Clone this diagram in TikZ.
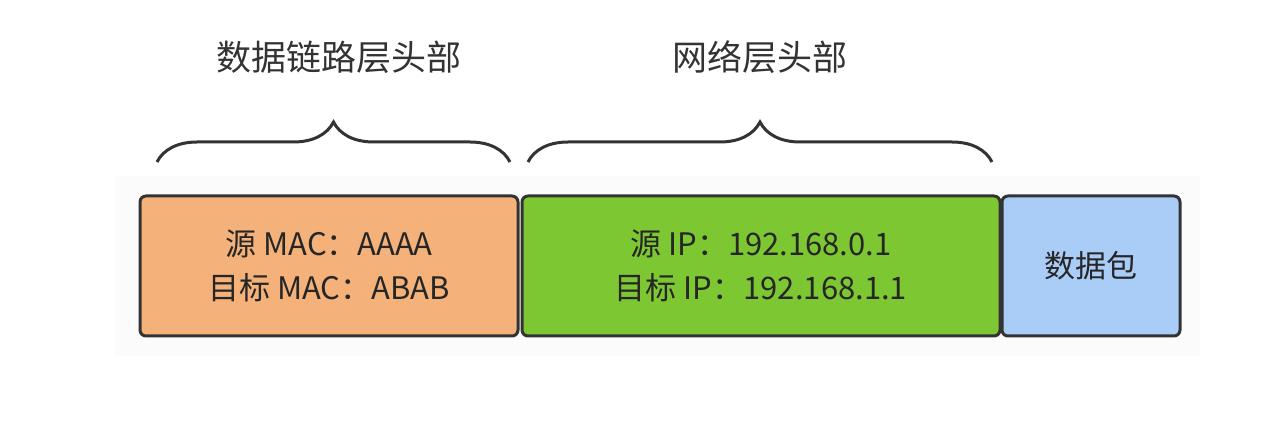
\documentclass[tikz,border=0pt]{standalone}
\usepackage{fontspec}
\setmainfont{Noto Sans CJK SC}
\usetikzlibrary{decorations.pathreplacing}
\definecolor{orangef}{HTML}{F4B27A}
\definecolor{greenf}{HTML}{7DC832}
\definecolor{bluef}{HTML}{A9CDF7}
\definecolor{edge}{HTML}{333333}
\tikzset{
  field/.style={draw=edge, line width=3pt, rounded corners=6pt, minimum height=140pt, inner sep=0pt, align=center, font=\fontsize{31}{44}\selectfont, text=black!85},
  brc/.style={decorate, decoration={brace, amplitude=40pt, aspect=0.5}, line width=3pt, draw=edge},
  lbl/.style={font=\fontsize{35}{40}\selectfont, text=black!80}
}
\begin{document}
\begin{tikzpicture}[x=1pt,y=1pt]
\useasboundingbox (0,0) rectangle (1280,426);
\fill[black!1.5] (115,70) rectangle (1200,250);
\node[field, fill=orangef, minimum width=378pt] (mac) at (329,160) {源 MAC：AAAA\\目标 MAC：ABAB};
\node[field, fill=greenf, minimum width=478pt] (ip) at (761,160) {源 IP：192.168.0.1\\目标 IP：192.168.1.1};
\node[field, fill=bluef, minimum width=178pt] (data) at (1091,160) {数据包};
\coordinate (b1a) at (157,264); \coordinate (b1b) at (510,264);
\coordinate (b2a) at (528,264); \coordinate (b2b) at (992,264);
\draw[brc] (b1a) -- (b1b);
\draw[brc] (b2a) -- (b2b);
\node[lbl] (l1) at (339,369) {数据链路层头部};
\node[lbl] (l2) at (760,369) {网络层头部};
\end{tikzpicture}
\end{document}
